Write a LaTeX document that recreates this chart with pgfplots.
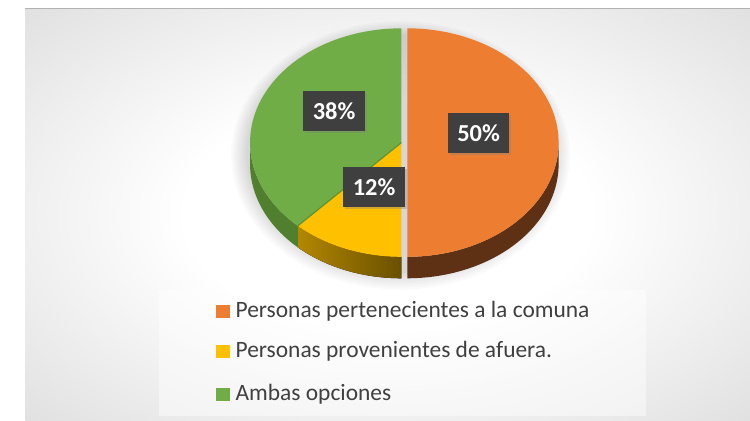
\documentclass[border=0pt]{standalone}
\usepackage{pgfplots}
\pgfplotsset{compat=1.18}
\usepackage{pgfplotstable}
\usepgfplotslibrary{fillbetween}
\usetikzlibrary{shadows}
\usepackage{fontspec}
\setmainfont{Carlito}
\definecolor{cOrange}{HTML}{ED7D31}
\definecolor{cYellow}{HTML}{FFC000}
\definecolor{cGreen}{HTML}{70AD47}
\definecolor{sOrange}{HTML}{5E3114}
\definecolor{sYellowL}{HTML}{B38700}
\definecolor{sYellowR}{HTML}{6A5000}
\definecolor{sGreen}{HTML}{507F2E}
\definecolor{lineGreen}{HTML}{5B9236}
\definecolor{boxGray}{HTML}{3F3F3F}
\definecolor{txtGray}{HTML}{404040}
\pgfdeclareradialshading{bgshade}{\pgfpoint{0bp}{0bp}}{color(0bp)=(white); color(14bp)=(white); color(50bp)=(black!20); color(75bp)=(black!24)}

\pgfplotstableread{
name value
comuna 50
afuera 12
ambas 38
}\piedata

\begin{document}
\pgfplotstablegetelem{0}{value}\of\piedata\edef\vA{\pgfplotsretval}
\pgfplotstablegetelem{1}{value}\of\piedata\edef\vB{\pgfplotsretval}
\pgfplotstablegetelem{2}{value}\of\piedata\edef\vC{\pgfplotsretval}
\pgfmathsetmacro\tA{90}
\pgfmathsetmacro\tB{\tA-3.6*\vA}
\pgfmathsetmacro\tC{\tB-3.6*\vB}
\pgfmathsetmacro\tD{\tC-3.6*\vC}
\def\cx{393}\def\ox{399}\def\cy{285}\def\rx{155}\def\ry{117}\def\dd{22}
\begin{tikzpicture}
\begin{axis}[
  name=ax,
  width=750pt, height=431pt, scale only axis,
  xmin=0, xmax=750, ymin=0, ymax=431,
  hide axis, clip=false,
  xtick=\empty, ytick=\empty,
  samples=80,
  fill between/on layer=main,
]
% page background
\fill[white] (axis cs:0,0) rectangle (axis cs:750,431);
\shade[shading=bgshade] (axis cs:8,0) rectangle (axis cs:750,422);
\draw[black!30, line width=0.8pt] (axis cs:8,422) -- (axis cs:750,422);
% legend panel
\fill[white, opacity=0.45] (axis cs:145,5) rectangle (axis cs:643,134);
% soft shadow of the pie
\pgfplotsinvokeforeach{0,...,7}{
  \fill[black, opacity=0.018] (axis cs:392,{274-#1*0.3}) ellipse [x radius={158+#1*2.2}, y radius={122+#1*2.2}];
}
% side walls
\addplot[draw=none, name path=oT, domain=\tB:0] ({\ox+\rx*cos(x)},{\cy+\ry*sin(x)});
\addplot[draw=none, name path=oB, domain=\tB:0] ({\ox+\rx*cos(x)},{\cy-\dd+\ry*sin(x)});
\addplot[sOrange] fill between[of=oT and oB];
\addplot[draw=none, name path=yT, domain=\tC:\tB] ({\cx+\rx*cos(x)},{\cy+\ry*sin(x)});
\addplot[draw=none, name path=yB, domain=\tC:\tB] ({\cx+\rx*cos(x)},{\cy-\dd+\ry*sin(x)});
\addplot[left color=sYellowL, right color=sYellowR] fill between[of=yT and yB];
\addplot[draw=none, name path=gT, domain=-180:\tC] ({\cx+\rx*cos(x)},{\cy+\ry*sin(x)});
\addplot[draw=none, name path=gB, domain=-180:\tC] ({\cx+\rx*cos(x)},{\cy-\dd+\ry*sin(x)});
\addplot[sGreen] fill between[of=gT and gB];
% top faces
\addplot[fill=cOrange, draw=none, domain=\tB:\tA] ({\ox+\rx*cos(x)},{\cy+\ry*sin(x)}) -- (axis cs:\ox,\cy) -- cycle;
\addplot[fill=cYellow, draw=none, domain=\tC:\tB] ({\cx+\rx*cos(x)},{\cy+\ry*sin(x)}) -- (axis cs:\cx,\cy) -- cycle;
\addplot[fill=cGreen, draw=none, domain=\tD:\tC] ({\cx+\rx*cos(x)},{\cy+\ry*sin(x)}) -- (axis cs:\cx,\cy) -- cycle;
\addplot[lineGreen, line width=1.2pt, samples=2, domain=0:1] ({\cx+x*\rx*cos(\tC)},{\cy+x*\ry*sin(\tC)});
% data labels
\tikzset{lab/.style={fill=boxGray, text=white, font=\bfseries\fontsize{25}{25}\selectfont, minimum width=63pt, minimum height=41pt, inner sep=0pt, drop shadow={opacity=0.35, shadow xshift=2pt, shadow yshift=-2pt}}}
\node[lab] at (axis cs:472,295) {\vA\%};
\node[lab] at (axis cs:365,239) {\vB\%};
\node[lab] at (axis cs:324,317) {\vC\%};
% legend
\fill[cOrange] (axis cs:203,105) rectangle (axis cs:217,119);
\fill[cYellow] (axis cs:203,64) rectangle (axis cs:217,78);
\fill[cGreen] (axis cs:203,20) rectangle (axis cs:217,34);
\tikzset{leg/.style={anchor=west, text=txtGray, font=\fontsize{24}{24}\selectfont, inner sep=0pt}}
\node[leg] at (axis cs:223,112) {Personas pertenecientes a la comuna};
\node[leg] at (axis cs:223,71) {Personas provenientes de afuera.};
\node[leg] at (axis cs:223,27) {Ambas opciones};
\end{axis}
\pgfresetboundingbox
\useasboundingbox (ax.south west) rectangle (ax.north east);
\end{tikzpicture}
\end{document}
